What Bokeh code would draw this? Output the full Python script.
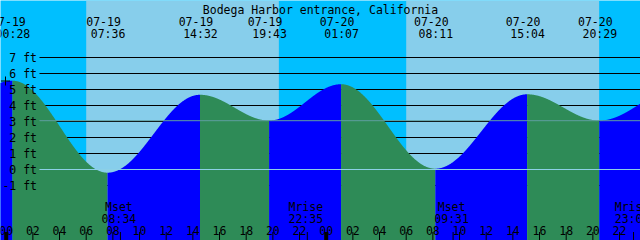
import numpy as np
from bokeh.plotting import figure
from bokeh.models import Range1d
from bokeh.core.properties import value
from bokeh.embed import file_html
from bokeh.resources import INLINE

# ---------------- data ----------------
title = "Bodega Harbor entrance, California"
# tide extremes: hours since 07-19 00:00 and height in ft (first/last are just outside the view)
tide_hours = [-5.5, 0.467, 7.6, 14.533, 19.717, 25.117, 32.183, 39.067, 44.483, 50.5]
tide_ft = [3.0, 5.55, -0.2, 4.67, 3.06, 5.33, 0.05, 4.70, 3.06, 5.1]
tide_dates = ["07-18", "07-19", "07-19", "07-19", "07-19", "07-20", "07-20", "07-20", "07-20", "07-21"]
tide_times = ["18:30", "00:28", "07:36", "14:32", "19:43", "01:07", "08:11", "15:04", "20:29", "02:30"]
sunrise_hours = [6.0, 30.0]
sunset_hours = [20.45, 44.47]
moon_hours = [8.567, 22.583, 33.517, 47.05]
moon_names = ["Mset", "Mrise", "Mset", "Mrise"]
moon_times = ["08:34", "22:35", "09:31", "23:03"]
level_ft = [-1, 0, 1, 2, 3, 4, 5, 6, 7]
level_labels = ["-1 ft", "0 ft", "1 ft", "2 ft", "3 ft", "4 ft", "5 ft", "6 ft", "7 ft"]
hour_ticks = [0, 2, 4, 6, 8, 10, 12, 14, 16, 18, 20, 22, 24, 26, 28, 30, 32, 34, 36, 38, 40, 42, 44, 46]
hour_labels = ["00", "02", "04", "06", "08", "10", "12", "14", "16", "18", "20", "22",
               "00", "02", "04", "06", "08", "10", "12", "14", "16", "18", "20", "22"]
midnight_hours = [0, 24]
datum_ft = 0.0
msl_ft = 3.05

# ---------------- layout helpers ----------------
W, H = 640, 240
PX_PER_HR = 640 / 48.0
X_ORIGIN = 5.7          # pixel of 07-19 00:00
Y_ZERO = 169.0          # pixel of 0 ft
PX_PER_FT = 16.0

x0 = -X_ORIGIN / PX_PER_HR
x1 = (W - X_ORIGIN) / PX_PER_HR
y0 = -(H - Y_ZERO) / PX_PER_FT
y1 = Y_ZERO / PX_PER_FT


def px_x(px):
    return (px - X_ORIGIN) / PX_PER_HR


def px_y(py):
    return (Y_ZERO - py) / PX_PER_FT


FONT = value("DejaVu Sans Mono")
FS = "11.5px"

NIGHT = "#00BFFF"
DAY = "#87CEEB"
RISE = "#0000FF"
FALL = "#2E8B57"

p = figure(width=W, height=H, x_range=Range1d(x0, x1), y_range=Range1d(y0, y1),
           toolbar_location=None, output_backend="svg", min_border=0,
           x_axis_type=None, y_axis_type=None)
p.grid.visible = False
p.outline_line_color = None
p.background_fill_color = NIGHT
p.border_fill_color = NIGHT

# day shading
p.quad(left=sunrise_hours, right=sunset_hours, bottom=y0, top=y1,
       fill_color=DAY, line_color=None)

# black level lines (beneath water)
lx = px_x(39)
p.segment(x0=[lx] * len(level_ft), x1=[x1] * len(level_ft), y0=level_ft, y1=level_ft,
          line_color="black", line_width=1)

# tide curve (cosine between extremes), filled per rising/falling segment
for i in range(len(tide_hours) - 1):
    ta, tb = tide_hours[i], tide_hours[i + 1]
    ha, hb = tide_ft[i], tide_ft[i + 1]
    lo, hi = max(ta, x0 - 0.1), min(tb, x1 + 0.1)
    if hi <= lo:
        continue
    t = np.linspace(lo, hi, 300)
    ph = (t - ta) / (tb - ta)
    h = ha + (hb - ha) * (1 - np.cos(np.pi * ph)) / 2
    p.varea(x=t, y1=np.full_like(t, y0), y2=h, fill_color=RISE if hb > ha else FALL)

# datum and mean sea level lines (above water)
p.segment(x0=[lx], x1=[x1], y0=[datum_ft], y1=[datum_ft], line_color="#8CD0E6", line_width=1)
p.segment(x0=[lx], x1=[x1], y0=[msl_ft], y1=[msl_ft], line_color="#5F9EA0", line_width=1)

# level labels
p.text(x=[px_x(36.5)] * len(level_ft), y=level_ft, text=level_labels, text_font=FONT,
       text_font_size=FS, text_align="right", text_baseline="middle", text_color="black")

# title
p.text(x=[px_x(320)], y=[px_y(9.5)], text=[title], text_font=FONT, text_font_size=FS,
       text_align="center", text_baseline="alphabetic", text_color="black")

# tide event labels (visible ones)
vis = [i for i, t in enumerate(tide_hours) if x0 - 1 < t < x1 + 1]
ex = [tide_hours[i] for i in vis]
p.text(x=ex, y=[px_y(21)] * len(ex), text=[tide_dates[i] for i in vis], x_offset=-4,
       text_font=FONT, text_font_size=FS, text_align="center", text_baseline="alphabetic",
       text_color="black")
p.text(x=ex, y=[px_y(33)] * len(ex), text=[tide_times[i] for i in vis], x_offset=0.5,
       text_font=FONT, text_font_size=FS, text_align="center", text_baseline="alphabetic",
       text_color="black")

# moon events
p.text(x=moon_hours, y=[px_y(206.5)] * len(moon_hours), text=moon_names, x_offset=-1.5,
       text_font=FONT, text_font_size=FS, text_align="center", text_baseline="alphabetic",
       text_color="black")
p.text(x=moon_hours, y=[px_y(218)] * len(moon_hours), text=moon_times, x_offset=-1.5,
       text_font=FONT, text_font_size=FS, text_align="center", text_baseline="alphabetic",
       text_color="black")

# hour labels
p.text(x=hour_ticks, y=[px_y(230)] * len(hour_ticks), text=hour_labels,
       text_font=FONT, text_font_size=FS, text_align="center", text_baseline="alphabetic",
       text_color="black")

# ticks
ty = px_y(231.5)
p.segment(x0=hour_ticks, x1=hour_ticks, y0=[ty] * len(hour_ticks), y1=[y0] * len(hour_ticks),
          line_color="black", line_width=1)
p.segment(x0=moon_hours, x1=moon_hours, y0=[ty] * len(moon_hours), y1=[y0] * len(moon_hours),
          line_color="black", line_width=1)
p.segment(x0=midnight_hours, x1=midnight_hours, y0=[ty] * 2, y1=[y0] * 2,
          line_color="black", line_width=4)

# "+" mark at left edge
p.scatter(x=[px_x(5)], y=[px_y(80.5)], marker="cross", size=9, line_color="black", line_width=1)

open("out.html", "w").write(file_html(p, INLINE))
